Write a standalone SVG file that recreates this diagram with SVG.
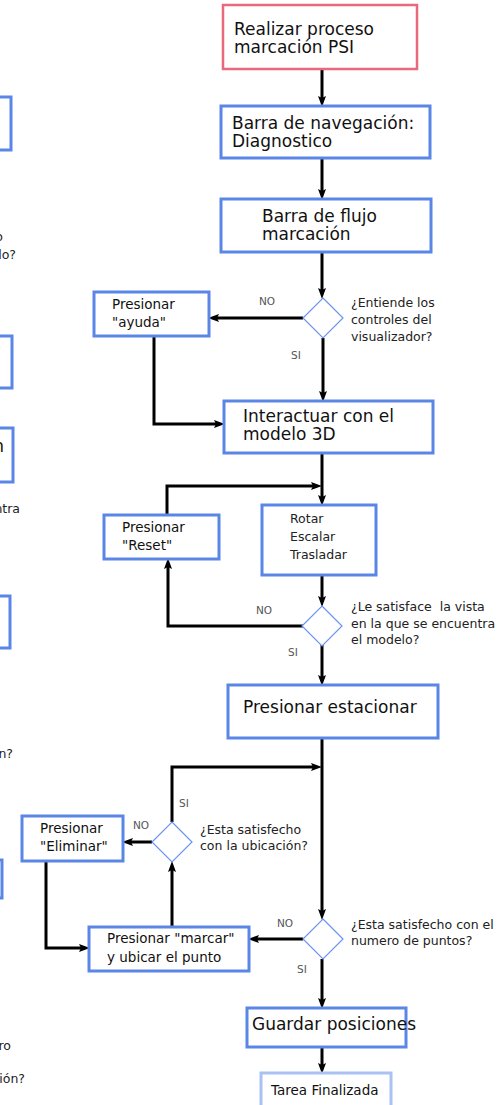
<svg xmlns="http://www.w3.org/2000/svg" width="500" height="1105" viewBox="0 0 500 1105">
  <style>
    .box { fill: #fff; stroke: #5a86e6; stroke-width: 3; }
    .start { fill: #fff; stroke: #e8687c; stroke-width: 2.5; }
    .end { fill: #fff; stroke: #a9c1f3; stroke-width: 3; }
    .dec { fill: #fff; stroke: #6b93ee; stroke-width: 1.2; }
    .big { font-family: "DejaVu Sans", Verdana, sans-serif; font-size: 17px; fill: #111; }
    .mid { font-family: "DejaVu Sans", Verdana, sans-serif; font-size: 13.5px; fill: #111; }
    .small { font-family: "DejaVu Sans", Verdana, sans-serif; font-size: 12.5px; fill: #222; }
    .lbl { font-family: "DejaVu Sans", Verdana, sans-serif; font-size: 10.5px; fill: #555; }
    .wire { fill: none; stroke: #000; stroke-width: 3; marker-end: url(#arrow); }
  </style>
  <defs>
    <marker id="arrow" markerUnits="userSpaceOnUse" markerWidth="12" markerHeight="10" refX="5" refY="4" orient="auto">
      <path d="M0,0 L11,4 L0,8 L2,4 z" fill="#000"/>
    </marker>
  </defs>
  <rect width="500" height="1105" fill="#fff"/>

  <!-- partial column at the left edge -->
  <g id="left-edge">
    <rect class="box" x="-100" y="97" width="111" height="53"/>
    <text class="small" x="3" y="241" text-anchor="end">o</text>
    <text class="small" x="16" y="259" text-anchor="end">lo?</text>
    <rect class="box" x="-100" y="336" width="112" height="52"/>
    <rect class="box" x="-100" y="428" width="113" height="54"/>
    <text class="big" x="4" y="452" text-anchor="end">n</text>
    <text class="small" x="20" y="513" text-anchor="end">ntra</text>
    <rect class="box" x="-100" y="596" width="110" height="52"/>
    <text class="small" x="13" y="758" text-anchor="end">n?</text>
    <rect class="box" x="-100" y="860" width="102" height="38"/>
    <text class="small" x="11" y="1050" text-anchor="end">ro</text>
    <text class="small" x="25" y="1083" text-anchor="end">ión?</text>
  </g>

  <!-- connectors -->
  <g id="connectors">
    <path class="wire" d="M322,69 V101"/>
    <path class="wire" d="M322,158 V194"/>
    <path class="wire" d="M322,252 V293"/>
    <path class="wire" d="M303,318 H214"/>
    <path class="wire" d="M323,338 V396"/>
    <path class="wire" d="M154,336 V424 H219"/>
    <path class="wire" d="M322,453 V500"/>
    <path class="wire" d="M167,515 V486 H316"/>
    <path class="wire" d="M322,575 V601"/>
    <path class="wire" d="M303,626 H168 V564"/>
    <path class="wire" d="M322,645 V680"/>
    <path class="wire" d="M322,738 V914"/>
    <path class="wire" d="M172,822 V767 H316"/>
    <path class="wire" d="M152,842 H128"/>
    <path class="wire" d="M46,861 V948 H84"/>
    <path class="wire" d="M172,927 V867"/>
    <path class="wire" d="M303,939 H254"/>
    <path class="wire" d="M322,959 V1003"/>
    <path class="wire" d="M322,1047 V1068"/>
    <text class="lbl" x="259" y="305">NO</text>
    <text class="lbl" x="291" y="359">SI</text>
    <text class="lbl" x="256" y="614">NO</text>
    <text class="lbl" x="288" y="656">SI</text>
    <text class="lbl" x="179" y="807">SI</text>
    <text class="lbl" x="133" y="829">NO</text>
    <text class="lbl" x="277" y="927">NO</text>
    <text class="lbl" x="297" y="973">SI</text>
  </g>

  <g id="start">
    <rect class="start" x="223" y="5" width="194" height="64"/>
    <text class="big" x="234" y="35">Realizar proceso</text>
    <text class="big" x="234" y="53">marcación PSI</text>
  </g>

  <g id="nav-bar">
    <rect class="box" x="221" y="106" width="209" height="52"/>
    <text class="big" x="232" y="129">Barra de navegación:</text>
    <text class="big" x="232" y="147">Diagnostico</text>
  </g>

  <g id="flow-bar">
    <rect class="box" x="221" y="199" width="210" height="53"/>
    <text class="big" x="262" y="222">Barra de flujo</text>
    <text class="big" x="262" y="240">marcación</text>
  </g>

  <g id="q-controls">
    <path class="dec" d="M323,298 L343,318 L323,338 L303,318 z"/>
    <text class="small" x="351" y="307">¿Entiende los</text>
    <text class="small" x="351" y="324">controles del</text>
    <text class="small" x="351" y="341">visualizador?</text>
  </g>

  <g id="help">
    <rect class="box" x="94" y="292" width="115" height="44"/>
    <text class="mid" x="112" y="309">Presionar</text>
    <text class="mid" x="112" y="327">"ayuda"</text>
  </g>

  <g id="interact">
    <rect class="box" x="224" y="401" width="209" height="52"/>
    <text class="big" x="243" y="422">Interactuar con el</text>
    <text class="big" x="243" y="440">modelo 3D</text>
  </g>

  <g id="transform">
    <rect class="box" x="262" y="505" width="114" height="70"/>
    <text class="small" x="290" y="523">Rotar</text>
    <text class="small" x="290" y="541">Escalar</text>
    <text class="small" x="290" y="559">Trasladar</text>
  </g>

  <g id="reset">
    <rect class="box" x="104" y="515" width="115" height="44"/>
    <text class="mid" x="122" y="532">Presionar</text>
    <text class="mid" x="122" y="550">"Reset"</text>
  </g>

  <g id="q-view">
    <path class="dec" d="M322,606 L342,626 L322,646 L302,626 z"/>
    <text class="small" x="351" y="611" xml:space="preserve">¿Le satisface  la vista</text>
    <text class="small" x="351" y="628">en la que se encuentra</text>
    <text class="small" x="351" y="644">el modelo?</text>
  </g>

  <g id="park">
    <rect class="box" x="228" y="685" width="210" height="53"/>
    <text class="big" x="243" y="713">Presionar estacionar</text>
  </g>

  <g id="q-location">
    <path class="dec" d="M172,822 L192,842 L172,862 L152,842 z"/>
    <text class="small" x="200" y="834">¿Esta satisfecho</text>
    <text class="small" x="200" y="850">con la ubicación?</text>
  </g>

  <g id="delete">
    <rect class="box" x="22" y="816" width="101" height="45"/>
    <text class="mid" x="40" y="833">Presionar</text>
    <text class="mid" x="40" y="851">"Eliminar"</text>
  </g>

  <g id="mark">
    <rect class="box" x="89" y="927" width="160" height="44"/>
    <text class="mid" x="107" y="943">Presionar "marcar"</text>
    <text class="mid" x="107" y="962">y ubicar el punto</text>
  </g>

  <g id="q-count">
    <path class="dec" d="M323,919 L343,939 L323,959 L303,939 z"/>
    <text class="small" x="351" y="929">¿Esta satisfecho con el</text>
    <text class="small" x="351" y="945">numero de puntos?</text>
  </g>

  <g id="save">
    <rect class="box" x="247" y="1008" width="159" height="39"/>
    <text class="big" x="252" y="1030">Guardar posiciones</text>
  </g>

  <g id="done">
    <rect class="end" x="261" y="1073" width="130" height="45"/>
    <text class="mid" x="271" y="1095">Tarea Finalizada</text>
  </g>
</svg>
